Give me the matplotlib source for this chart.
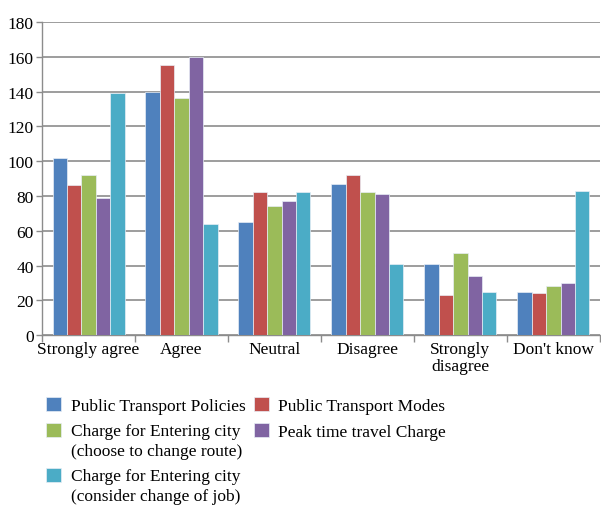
import matplotlib
matplotlib.use("Agg")
import matplotlib.pyplot as plt
from matplotlib.patches import Rectangle
from matplotlib.legend_handler import HandlerPatch, update_from_first_child
import numpy as np

categories = ["Strongly agree", "Agree", "Neutral", "Disagree", "Strongly\ndisagree", "Don't know"]
series_names = [
    "Public Transport Policies",
    "Public Transport Modes",
    "Charge for Entering city\n(choose to change route)",
    "Peak time travel Charge",
    "Charge for Entering city\n(consider change of job)",
]
policies = [102, 140, 65, 87, 41, 25]
modes = [86, 155, 82, 92, 23, 24]
route = [92, 136, 74, 82, 47, 28]
peak = [79, 160, 77, 81, 34, 30]
job = [139, 64, 82, 41, 25, 83]
colors = ["#4F81BD", "#C0504D", "#9BBB59", "#8064A2", "#4BACC6"]
yticks = [0, 20, 40, 60, 80, 100, 120, 140, 160, 180]

plt.rcParams['font.family'] = ['Liberation Serif', 'DejaVu Serif']

fig = plt.figure(figsize=(6.01, 5.10), dpi=100)
ax = fig.add_axes([0.07, 0.341, 0.928, 0.614])

data = [policies, modes, route, peak, job]
x = np.arange(len(categories))
w = 0.155
handles = []
for i, (vals, c) in enumerate(zip(data, colors)):
    b = ax.bar(x + (i - 2) * w, vals, width=w, color=c, edgecolor="#E8EEF6", linewidth=0.5, zorder=3)
    handles.append(b)

ax.set_xlim(-0.5, len(categories) - 0.5)
ax.set_ylim(0, 180)
ax.set_yticks(yticks)
ax.set_yticklabels([str(t) for t in yticks], fontsize=12.5)
ax.yaxis.grid(True, color="#8C8C8C", linewidth=1.2, zorder=0)
ax.set_axisbelow(True)

ax.set_xticks(x)
ax.set_xticklabels(categories, fontsize=12.5, linespacing=1.1, va="top")
ax.tick_params(axis="x", length=0, pad=4)
ax.set_xticks(np.arange(-0.5, len(categories) - 0.4, 1), minor=True)
ax.tick_params(axis="x", which="minor", length=5, color="#8C8C8C", width=1)
ax.tick_params(axis="y", length=4, color="#8C8C8C", width=1, pad=2)

for s in ["top", "right"]:
    ax.spines[s].set_visible(False)
for s in ["left", "bottom"]:
    ax.spines[s].set_color("#8C8C8C")
    ax.spines[s].set_linewidth(1)

FS = 12.5
LS = 1.3


def top_patch(legend, orig_handle, xdescent, ydescent, width, height, fontsize):
    shift = FS * LS / 2.0
    return Rectangle((-xdescent, -ydescent + shift), width, height)


top_handler = HandlerPatch(patch_func=top_patch, update_func=update_from_first_child)

order = [0, 2, 4, 1, 3]
leg = fig.legend([handles[i] for i in order], [series_names[i] for i in order],
                 ncol=2, loc="upper left", bbox_to_anchor=(0.077, 0.220),
                 frameon=False, fontsize=FS, handlelength=0.85, handleheight=0.85,
                 handletextpad=0.55, columnspacing=0.5, labelspacing=0.55,
                 borderpad=0, borderaxespad=0,
                 handler_map={handles[2]: top_handler, handles[4]: top_handler})
for t in leg.get_texts():
    t.set_linespacing(LS)

fig.savefig("out.png", dpi=100)
